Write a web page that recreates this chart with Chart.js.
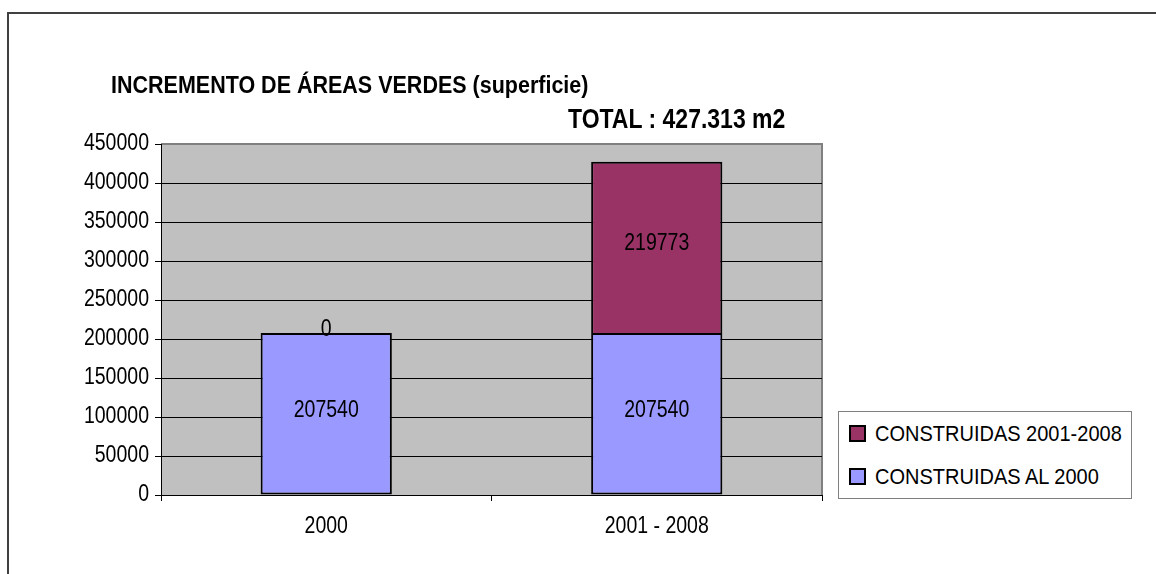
<!DOCTYPE html>
<html>
<head>
<meta charset="utf-8">
<title>Incremento de áreas verdes</title>
<script src="https://cdn.jsdelivr.net/npm/chart.js@4.4.1/dist/chart.umd.min.js"></script>
<style>
  body { margin: 0; background: #fff; font-family: "Liberation Sans", Arial, sans-serif; }
  #wrap { position: relative; width: 1156px; height: 574px; overflow: hidden; }
  #frame { position: absolute; left: 7px; top: 12px; width: 2000px; height: 2000px;
           border-left: 2px solid #404040; border-top: 2px solid #404040; }
  canvas { position: absolute; left: 0; top: 0; }
  .title { position: absolute; font-weight: bold; color: #000; white-space: nowrap; transform-origin: left top; }
  #title { left: 111px; top: 72px; font-size: 21.5px; line-height: 22px; transform: scaleY(1.15); }
  #total { left: 568px; top: 105px; font-size: 23px; line-height: 23px; transform: scaleY(1.19); }
  #legend { position: absolute; left: 838px; top: 411px; width: 292px; height: 86px;
            border: 1px solid #808080; background: #fff; }
  .row { height: 43px; display: flex; align-items: center; font-size: 20px; color: #000; }
  .row span.t { display: inline-block; transform: scaleY(1.13); white-space: nowrap; }
  .sw { width: 13px; height: 13px; border: 2px solid #000; margin: 0 9px 0 10px; }
</style>
</head>
<body>
<div id="wrap">
  <div id="frame"></div>
  <canvas id="chart" width="1156" height="574"></canvas>
  <div class="title" id="title">INCREMENTO DE ÁREAS VERDES (superficie)</div>
  <div class="title" id="total">TOTAL : 427.313 m2</div>
  <div id="legend"></div>
</div>
<script>
const categories = ["2000", "2001 - 2008"];
const construidasAl2000 = [207540, 207540];
const construidas2001_2008 = [0, 219773];
const seriesNames = ["CONSTRUIDAS AL 2000", "CONSTRUIDAS 2001-2008"];
const seriesColors = ["#9999FF", "#993366"];
const yMax = 450000;
const yStep = 50000;

const fontFamily = '"Liberation Sans", Arial, sans-serif';
const labelFont = "19.5px " + fontFamily;
const stretch = 1.25; // original font looks condensed / tall

// legend (reverse order, like the original)
const legend = document.getElementById("legend");
[1, 0].forEach(i => {
    const row = document.createElement("div");
    row.className = "row";
    row.innerHTML = '<span class="sw" style="background:' + seriesColors[i] + '"></span><span class="t">' + seriesNames[i] + '</span>';
    legend.appendChild(row);
});

function tallText(ctx, text, x, y, align) {
    ctx.save();
    ctx.translate(x, y);
    ctx.scale(1, stretch);
    ctx.font = labelFont;
    ctx.fillStyle = "#000";
    ctx.textAlign = align;
    ctx.textBaseline = "middle";
    ctx.fillText(text, 0, 0);
    ctx.restore();
}

const plotBg = {
    id: "plotBg",
    beforeDraw(chart) {
        const { ctx, chartArea: a } = chart;
        ctx.save();
        ctx.fillStyle = "#C0C0C0";
        ctx.fillRect(a.left, a.top, a.right - a.left, a.bottom - a.top);
        ctx.strokeStyle = "#808080";
        ctx.lineWidth = 2;
        ctx.beginPath();
        ctx.moveTo(a.left, a.top);
        ctx.lineTo(a.right, a.top);
        ctx.lineTo(a.right, a.bottom);
        ctx.stroke();
        ctx.restore();
    }
};

// tick labels and value labels, drawn from the chart's own scales
const textLayer = {
    id: "textLayer",
    afterDraw(chart) {
        const ctx = chart.ctx;
        const xs = chart.scales.x, ys = chart.scales.y;
        ys.ticks.forEach(t => {
            tallText(ctx, String(t.value), ys.right - 12, ys.getPixelForValue(t.value) - 1, "right");
        });
        xs.ticks.forEach((t, i) => {
            tallText(ctx, categories[i], xs.getPixelForValue(i), xs.top + 31, "center");
        });
        chart.data.datasets.forEach((ds, di) => {
            chart.getDatasetMeta(di).data.forEach((bar, i) => {
                const y = (bar.y + bar.base) / 2 - 4;
                tallText(ctx, String(ds.data[i]), bar.x, y, "center");
            });
        });
    }
};

new Chart(document.getElementById("chart"), {
    type: "bar",
    data: {
        labels: categories,
        datasets: [
            {
                label: seriesNames[0],
                data: construidasAl2000,
                backgroundColor: seriesColors[0],
                borderColor: "#000",
                borderWidth: 2,
                borderSkipped: false
            },
            {
                label: seriesNames[1],
                data: construidas2001_2008,
                backgroundColor: seriesColors[1],
                borderColor: "#000",
                borderWidth: { top: 2, left: 2, right: 2, bottom: 0 },
                borderSkipped: false
            }
        ]
    },
    options: {
        responsive: false,
        animation: false,
        devicePixelRatio: 1,
        categoryPercentage: 1,
        barPercentage: 0.397,
        layout: { padding: { top: 144, right: 334, left: 0, bottom: 0 } },
        plugins: {
            legend: { display: false },
            tooltip: { enabled: false }
        },
        scales: {
            x: {
                stacked: true,
                grid: { display: true, drawOnChartArea: false, offset: true, tickLength: 6, color: "#000" },
                border: { color: "#000", width: 1 },
                ticks: { color: "rgba(0,0,0,0)", font: { family: fontFamily, size: 19 } },
                afterFit(scale) { scale.height = 79; }
            },
            y: {
                stacked: true,
                min: 0,
                max: yMax,
                grid: {
                    color: c => (c.tick && c.tick.value === yMax ? "rgba(0,0,0,0)" : "#000"),
                    tickColor: "#000",
                    tickLength: 6,
                    lineWidth: 1
                },
                border: { color: "#000", width: 1 },
                ticks: {
                    stepSize: yStep,
                    color: "rgba(0,0,0,0)",
                    font: { family: fontFamily, size: 19 },
                    callback: v => String(v)
                },
                afterFit(scale) { scale.width = 161; }
            }
        }
    },
    plugins: [plotBg, textLayer]
});
</script>
</body>
</html>
